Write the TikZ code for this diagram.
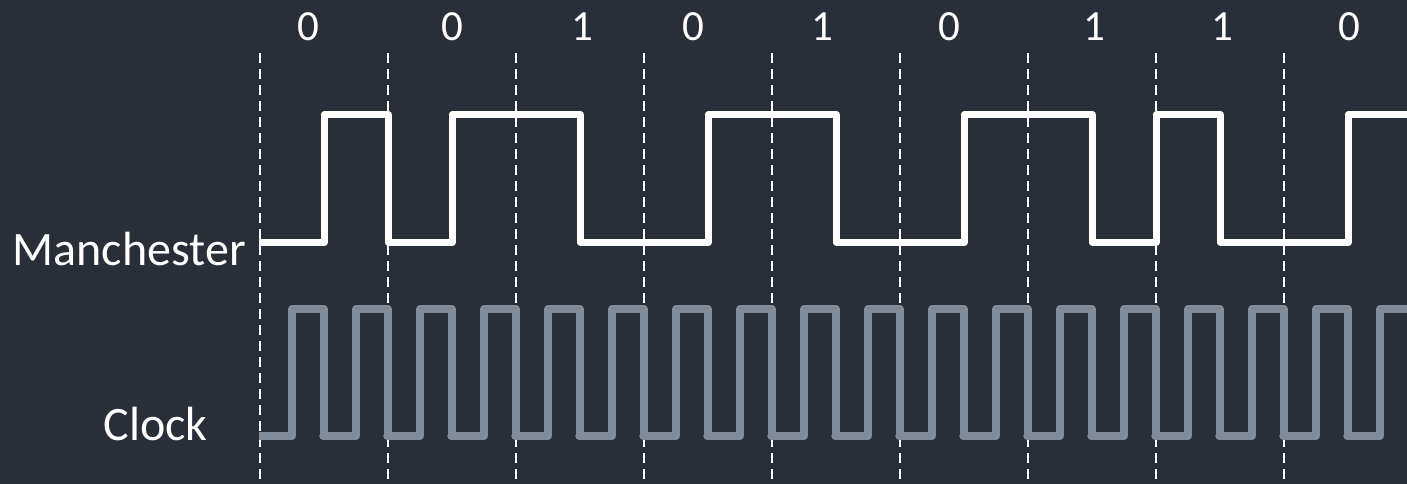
\documentclass[tikz,border=0pt]{standalone}
\usepackage{fontspec}
\setmainfont{Carlito}
\definecolor{bg}{HTML}{282F38}
\definecolor{clk}{HTML}{808B9A}
\tikzset{
  grid/.style={draw=white, line width=2.2pt, dash pattern=on 10pt off 6pt},
  manch/.style={draw=white, line width=7pt, line join=round},
  clock/.style={draw=clk, line width=7.5pt, line join=round},
  bit/.style={text=white, font=\fontsize{43}{48}\selectfont, inner sep=0pt, anchor=base},
  sig/.style={text=white, font=\fontsize{48}{54}\selectfont, inner sep=0pt, anchor=base east}
}
\begin{document}
\begin{tikzpicture}[x=1pt,y=-1pt]
  \fill[bg] (0,0) rectangle (1407,484);
  \useasboundingbox (0,0) rectangle (1407,484);
  \clip (0,0) rectangle (1407,484);
  % grid lines
  \foreach \k in {0,...,8} {
    \coordinate (g\k) at ({260+128*\k},53);
    \draw[grid] (g\k) -- ++(0,440);
  }
  % bit labels
  \foreach \x/\b [count=\i] in {308/0,452/0,582/1,693/0,822/1,949/0,1094/1,1222/1,1349/0} {
    \node[bit] (b\i) at (\x,41) {\b};
  }
  % signal names
  \node[sig] (man) at (246,265) {Manchester};
  \node[sig] (clkname) at (208,440) {Clock};
  % Manchester waveform
  \draw[manch] (259,242.5) -- (324,242.5) -- (324,114.5) -- (388,114.5) -- (388,242.5)
    -- (452,242.5) -- (452,114.5) -- (580,114.5) -- (580,242.5) -- (708,242.5)
    -- (708,114.5) -- (836,114.5) -- (836,242.5) -- (964,242.5) -- (964,114.5)
    -- (1092,114.5) -- (1092,242.5) -- (1156,242.5) -- (1156,114.5) -- (1220,114.5)
    -- (1220,242.5) -- (1348,242.5) -- (1348,114.5) -- (1420,114.5);
  % Clock waveform
  \draw[clock] (259,436) \foreach \k in {0,...,17} { -- ++(33,0) -- ++(0,-127) -- ++(32,0) -- ++(0,127) -- ++(-1,0) };
\end{tikzpicture}
\end{document}
